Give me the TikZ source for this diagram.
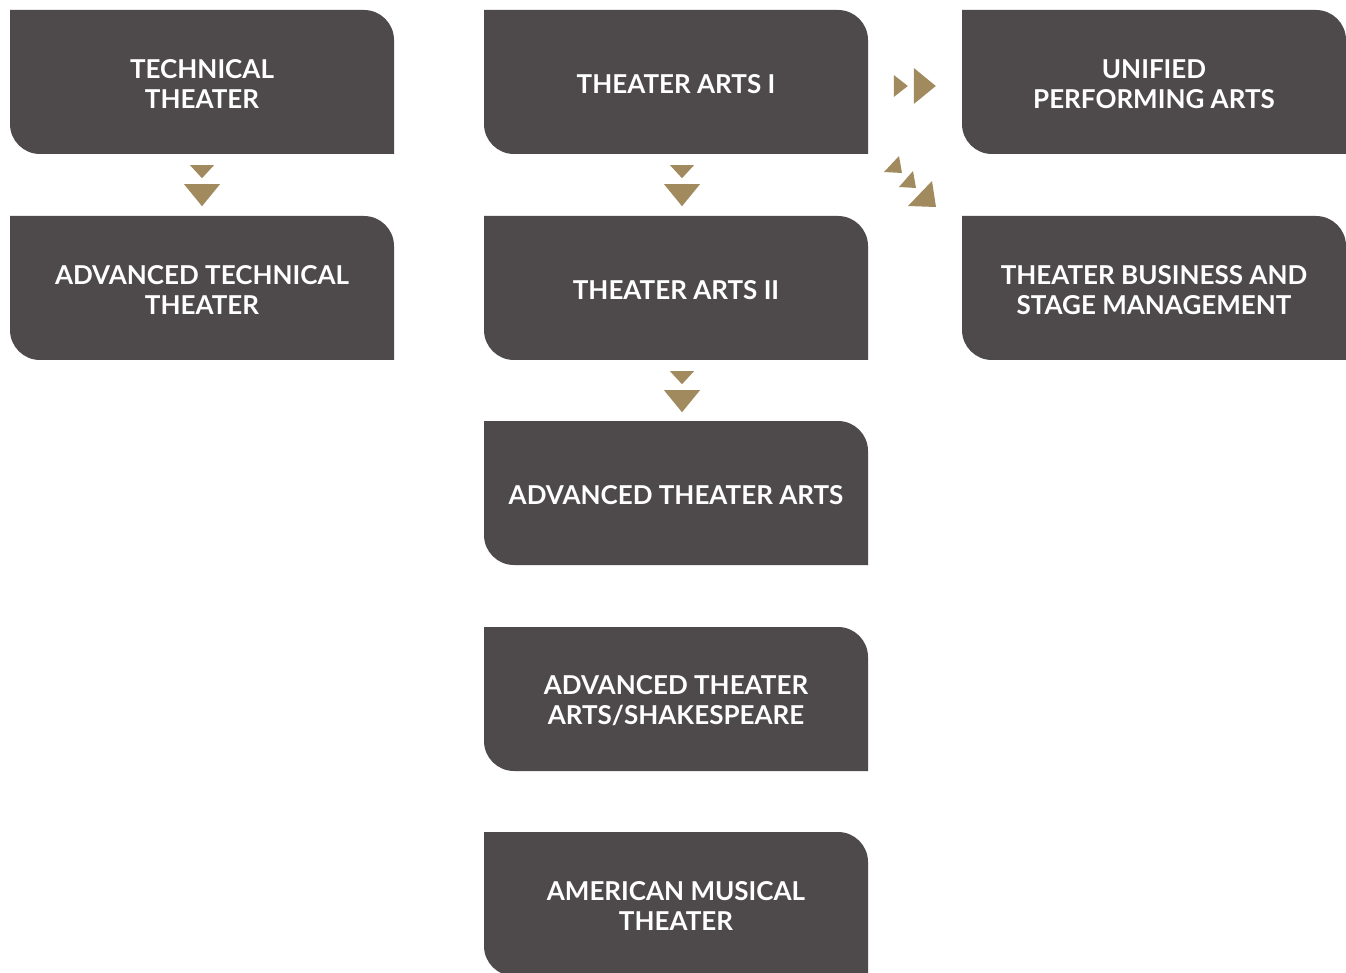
\documentclass[tikz,border=0pt]{standalone}
\usepackage{fontspec}
\setmainfont{Lato}[UprightFont=* Bold]
\usetikzlibrary{calc}
\definecolor{boxgray}{HTML}{4E4A4B}
\definecolor{gold}{HTML}{A18A5E}
\tikzset{
  x=1pt, y=-1pt,
  box/.style={minimum width=384pt, minimum height=144pt, inner sep=0pt, align=center,
    text=white, font=\fontsize{26}{30}\selectfont,
    path picture={
      \fill[boxgray] (path picture bounding box.north west)
        -- ([xshift=-30pt]path picture bounding box.north east)
        arc[start angle=90, end angle=0, radius=30pt]
        -- (path picture bounding box.south east)
        -- ([xshift=30pt]path picture bounding box.south west)
        arc[start angle=270, end angle=180, radius=30pt]
        -- cycle;
    }},
  boxtext/.style={text=white, align=center, font=\fontsize{26}{30}\selectfont, inner sep=0pt},
  tri/.style={fill=gold}
}
\newcommand{\downpair}[1]{%
  \fill[tri] ($#1+(-12,11)$) -- ($#1+(12,11)$) -- ($#1+(0,24)$) -- cycle;
  \fill[tri] ($#1+(-18,30)$) -- ($#1+(18,30)$) -- ($#1+(0,52)$) -- cycle;
}
\newcommand{\cbox}[4]{%
  \node[box] (#1) at (#2,#3) {};
  \node[boxtext, yshift=-2pt] (#1-t) at (#1.center) {#4};
}
\begin{document}
\begin{tikzpicture}
\useasboundingbox (0,0) rectangle (1346,973);
\cbox{tt}{202}{82}{TECHNICAL\\THEATER}
\cbox{att}{202}{288}{ADVANCED TECHNICAL\\THEATER}
\cbox{ta1}{676}{82}{THEATER ARTS I}
\cbox{ta2}{676}{288}{THEATER ARTS II}
\cbox{ata}{676}{493}{ADVANCED THEATER ARTS}
\cbox{ats}{676}{699}{ADVANCED THEATER\\ARTS/SHAKESPEARE}
\cbox{amt}{676}{904}{AMERICAN MUSICAL\\THEATER}
\cbox{upa}{1154}{82}{UNIFIED\\PERFORMING ARTS}
\cbox{tbs}{1154}{288}{THEATER BUSINESS AND\\STAGE MANAGEMENT}
% down arrows
\coordinate (d1) at (tt.south);
\downpair{(d1)}
\coordinate (d2) at ($(ta1.south)+(6,0)$);
\downpair{(d2)}
\coordinate (d3) at ($(ta2.south)+(6,0)$);
\downpair{(d3)}
% right arrows
\coordinate (r1) at ($(upa.west)+(0,4)$);
\fill[tri] ($(r1)+(-68,-11)$) -- ($(r1)+(-68,11)$) -- ($(r1)+(-54,0)$) -- cycle;
\fill[tri] ($(r1)+(-48,-18)$) -- ($(r1)+(-48,18)$) -- ($(r1)+(-26,0)$) -- cycle;
% diagonal arrows
\fill[tri] (884,172) -- (899,156) -- (902,173) -- cycle;
\fill[tri] (899,187) -- (913,171) -- (916,188) -- cycle;
\fill[tri] (908,206) -- (932,181) -- (936,207) -- cycle;
\end{tikzpicture}
\end{document}
